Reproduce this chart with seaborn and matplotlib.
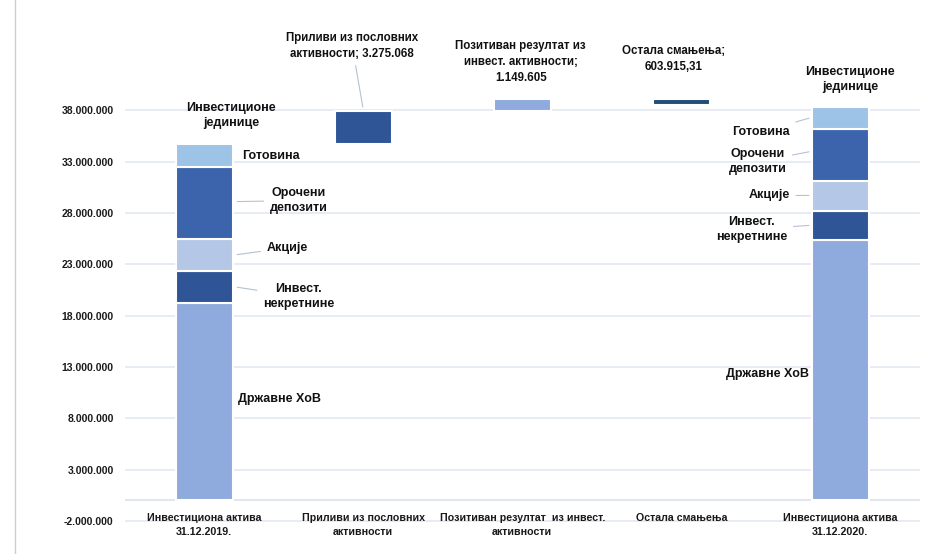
import numpy as np
import pandas as pd
import seaborn as sns
import matplotlib.pyplot as plt
from matplotlib.ticker import FuncFormatter
from matplotlib.lines import Line2D

# categories on the x axis
categories = ['Инвестициона актива\n31.12.2019.', 'Приливи из пословних\nактивности',
              'Позитиван резултат  из инвест.\nактивности', 'Остала смањења',
              'Инвестициона актива\n31.12.2020.']

# structure of the fund (bottom -> top)
segments = ['Државне ХоВ', 'Инвест.\nнекретнине', 'Акције', 'Орочени\nдепозити', 'Готовина']
seg_colors = ['#8FAADC', '#2F5597', '#B4C7E7', '#3B64AD', '#9DC3E6']
values_2019 = [19200000, 3100000, 3200000, 7000000, 2200000]
values_2020 = [25400000, 2800000, 2900000, 5100000, 2100000]

# waterfall steps
inflow = 3275068
invest_result = 1149605
other_decrease = 603915.31
step_colors = ['#2F5597', '#8FAADC', '#1F4E79']

yticks = np.arange(-2000000, 38000001, 5000000)

sns.set_style('white')
plt.rcParams['font.family'] = ['Liberation Sans', 'DejaVu Sans']

fig = plt.figure(figsize=(9.31, 5.54), dpi=100)
ax = fig.add_axes([0.134, 0.0505, 0.854, 0.908])

bw = 0.36

def seg_bar(cat, height, bottom, color):
    sns.barplot(x=[cat], y=[height], order=categories, bottom=bottom, color=color,
                saturation=1, width=bw, edgecolor='white', linewidth=1.5, ax=ax, zorder=3)

# stacked bars at both ends
for cat, vals in [(categories[0], values_2019), (categories[4], values_2020)]:
    base = 0
    for v, c in zip(vals, seg_colors):
        seg_bar(cat, v, base, c)
        base += v

# floating waterfall bars
start = sum(values_2019)
seg_bar(categories[1], inflow, start, step_colors[0])
seg_bar(categories[2], invest_result, start + inflow, step_colors[1])
seg_bar(categories[3], other_decrease, start + inflow + invest_result - other_decrease, step_colors[2])

# grid
for y in yticks:
    ax.axhline(y, color='#E4E9F3', lw=1.3, zorder=1)
ax.axhline(0, color='#DDE3EE', lw=1.3, zorder=2)

ax.set_ylim(-2500000, 46500000)
ax.set_xlim(-0.5, 4.5)
ax.set_yticks(yticks)
ax.yaxis.set_major_formatter(FuncFormatter(lambda v, p: f'{v:,.0f}'.replace(',', '.')))
ax.tick_params(axis='y', length=0, pad=8, labelsize=7.5, labelcolor='#1a1a1a')
for t in ax.get_yticklabels():
    t.set_fontweight('bold')
ax.set_xticks([])
ax.set_xlabel('')
ax.set_ylabel('')
sns.despine(ax=ax, left=True, bottom=True)

# category labels under the axis
for i, cat in enumerate(categories):
    ax.text(i, -1250000, cat, ha='center', va='top', fontsize=7.7, fontweight='bold',
            linespacing=1.5, color='#1a1a1a', clip_on=False, zorder=4)

lead = dict(arrowstyle='-', color='#B4C1D6', lw=0.8)
tk = dict(fontsize=9, fontweight='bold', color='#111111')

# left bar labels
ax.text(0.167, 37500000, 'Инвестиционе\nјединице', ha='center', va='center', linespacing=1.4, **tk)
ax.text(0.235, 33500000, 'Готовина', ha='left', va='center', **tk)
ax.annotate('Орочени\nдепозити', xy=(0.19, 29100000), xytext=(0.593, 29200000),
            ha='center', va='center', linespacing=1.4, arrowprops=lead, **tk)
ax.annotate('Акције', xy=(0.19, 23900000), xytext=(0.52, 24600000),
            ha='center', va='center', arrowprops=lead, **tk)
ax.annotate('Инвест.\nнекретнине', xy=(0.19, 20800000), xytext=(0.593, 19850000),
            ha='center', va='center', linespacing=1.4, arrowprops=lead, **tk)
ax.text(0.21, 9830000, 'Државне ХоВ', ha='left', va='center', **tk)

# right bar labels
ax.text(4.06, 41000000, 'Инвестиционе\nјединице', ha='center', va='center', linespacing=1.4, **tk)
ax.annotate('Готовина', xy=(3.82, 37300000), xytext=(3.683, 35900000),
            ha='right', va='center', arrowprops=lead, **tk)
ax.annotate('Орочени\nдепозити', xy=(3.82, 34000000), xytext=(3.48, 33000000),
            ha='center', va='center', linespacing=1.4, arrowprops=lead, **tk)
ax.annotate('Акције', xy=(3.82, 29700000), xytext=(3.683, 29700000),
            ha='right', va='center', arrowprops=lead, **tk)
ax.annotate('Инвест.\nнекретнине', xy=(3.82, 26800000), xytext=(3.444, 26400000),
            ha='center', va='center', linespacing=1.4, arrowprops=lead, **tk)
ax.text(3.80, 12300000, 'Државне ХоВ', ha='right', va='center', **tk)

# waterfall labels
tn = dict(fontsize=8.3, fontweight='bold', color='#111111', linespacing=1.45)
ax.annotate('Приливи из пословних\nактивности; 3.275.068', xy=(1.0, 38050000), xytext=(0.93, 44300000),
            ha='center', va='center', arrowprops=lead, annotation_clip=False, **tn)
ax.text(1.99, 42700000, 'Позитиван резултат из\nинвест. активности;\n1.149.605',
        ha='center', va='center', clip_on=False, **tn)
ax.text(2.95, 43000000, 'Остала смањења;\n603.915,31', ha='center', va='center', clip_on=False, **tn)

# thin frame line on the left
fig.add_artist(Line2D([0.016, 0.016], [0, 1], color='#C8CED8', lw=1))

fig.savefig('out.png', dpi=100)
